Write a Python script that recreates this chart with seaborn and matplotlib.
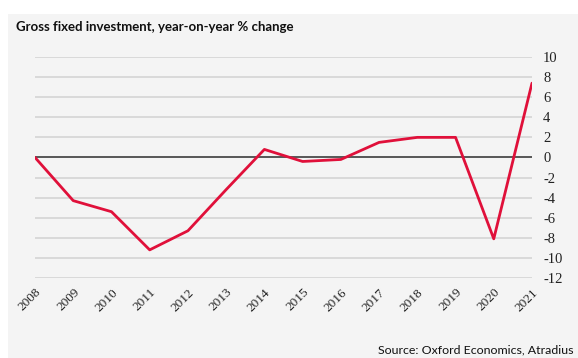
import matplotlib
matplotlib.use("Agg")
import matplotlib.pyplot as plt
from matplotlib.patches import Rectangle
import seaborn as sns
import pandas as pd

years = ["2008", "2009", "2010", "2011", "2012", "2013", "2014",
         "2015", "2016", "2017", "2018", "2019", "2020", "2021"]
growth = [0.0, -4.3, -5.4, -9.2, -7.3, -3.2, 0.8,
          -0.4, -0.2, 1.5, 2.0, 2.0, -8.1, 7.4]
y_ticks = [10, 8, 6, 4, 2, 0, -2, -4, -6, -8, -10, -12]

title = "Gross fixed investment, year-on-year % change"
source = "Source: Oxford Economics, Atradius"

df = pd.DataFrame({"year": years, "growth": growth})
df["pos"] = range(len(years))

sns.set_style("white")
plt.rcParams["font.serif"] = ["Liberation Serif", "DejaVu Serif"]
bg = "#f4f4f4"
W, H = 578, 358
fig = plt.figure(figsize=(W / 100, H / 100), dpi=100)
fig.patch.set_facecolor("white")
panel = Rectangle((8 / W, 0), 1 - 8 / W, (H - 14) / H,
                  transform=fig.transFigure, facecolor=bg,
                  edgecolor="none", zorder=-5)
fig.patches.append(panel)

ax = fig.add_axes([35 / W, (H - 278) / H, (532 - 35) / W, (278 - 57) / H])
ax.set_zorder(2)
ax.patch.set_visible(False)

for t in y_ticks:
    if t != 0:
        ax.axhline(t, color="#d4d4d4", lw=1.2, zorder=1)
ax.axhline(0, color="#4a4a4a", lw=1.3, zorder=2)

sns.lineplot(data=df, x="pos", y="growth", ax=ax, color="#e0103a",
             lw=2.0, zorder=3)

ax.set_xlim(0, len(years) - 1)
ax.set_ylim(-12, 10)
ax.set_yticks(y_ticks)
ax.yaxis.tick_right()
ax.set_xticks(df["pos"])
ax.tick_params(axis="both", length=0, pad=8)
ax.tick_params(axis="x", pad=6)
ax.set_yticklabels([str(t) for t in y_ticks], fontfamily="serif",
                   fontsize=10.5, color="#222222")
ax.set_xticklabels(years, rotation=45, ha="right", rotation_mode="anchor",
                   fontfamily="serif", fontsize=9.5, color="#222222")
ax.set_xlabel("")
ax.set_ylabel("")
for s in ax.spines.values():
    s.set_visible(False)

fig.text(16 / W, 1 - 31 / H, title, family="Lato", fontweight="bold",
         fontsize=9.5, color="#111111", va="baseline", ha="left")
fig.text(573 / W, 1 - 353 / H, source, family="Lato", fontsize=8.9,
         color="#111111", va="baseline", ha="right")

fig.savefig("out.png", dpi=100, facecolor=fig.get_facecolor())
